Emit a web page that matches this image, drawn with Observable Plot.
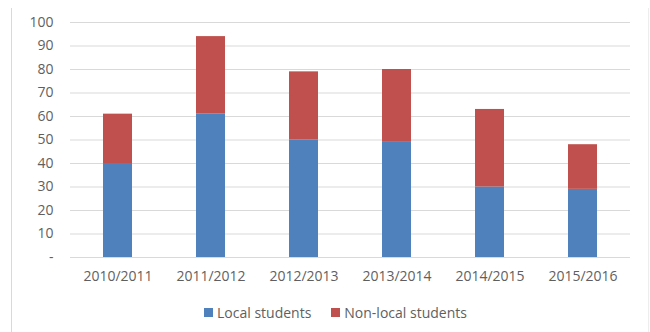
<!DOCTYPE html>
<html>
<head>
<meta charset="utf-8">
<script src="https://cdn.jsdelivr.net/npm/d3@7"></script>
<script src="https://cdn.jsdelivr.net/npm/@observablehq/plot@0.6"></script>
<style>
  html, body { margin: 0; padding: 0; background: #fff; }
  #wrap { position: relative; width: 650px; height: 332px; overflow: hidden; font-family: "Open Sans", "Liberation Sans", sans-serif; }
  #border { position: absolute; left: 11px; top: 8px; width: 636px; height: 330px; border-left: 1px solid #d9d9d9; border-right: 1px solid #ededed; }
  #chart { position: absolute; left: 0; top: 0; }
  #legend { position: absolute; left: 204px; top: 303px; display: flex; gap: 20px; font-size: 14px; color: #5f5f5f; }
  #legend span.item { display: flex; align-items: center; }
  #legend i { display: inline-block; width: 9px; height: 9px; margin-right: 4px; }
</style>
</head>
<body>
<div id="wrap">
  <div id="border"></div>
  <div id="chart"></div>
  <div id="legend"></div>
</div>
<script>
const years = ["2010/2011", "2011/2012", "2012/2013", "2013/2014", "2014/2015", "2015/2016"];
const localStudents = [40, 61, 50, 49, 30, 29];
const nonLocalStudents = [21, 33, 29, 31, 33, 19];
const seriesNames = ["Local students", "Non-local students"];
const seriesColors = ["#4f81bd", "#c0504d"];
const yTicks = [0, 10, 20, 30, 40, 50, 60, 70, 80, 90, 100];

const data = [];
years.forEach((y, i) => {
  data.push({year: y, type: seriesNames[0], value: localStudents[i]});
  data.push({year: y, type: seriesNames[1], value: nonLocalStudents[i]});
});

const fmt = d => d === 0 ? "-" : d;

const chart = Plot.plot({
  width: 650,
  height: 290,
  marginTop: 22,
  marginBottom: 33,
  marginLeft: 70,
  marginRight: 20,
  style: {fontFamily: '"Open Sans", "Liberation Sans", sans-serif', fontSize: "14px", color: "#5f5f5f", background: "transparent"},
  x: {domain: years, paddingInner: 0.69, paddingOuter: 0.345, label: null},
  y: {domain: [0, 100], label: null},
  color: {domain: seriesNames, range: seriesColors},
  marks: [
    Plot.gridY(yTicks, {stroke: "#d9d9d9", strokeOpacity: 1, strokeWidth: 1.2}),
    Plot.barY(data, {x: "year", y: "value", fill: "type"}),
    Plot.axisX({tickSize: 0, tickPadding: 14, label: null, fill: "#5f5f5f"}),
    Plot.axisY({ticks: yTicks, tickSize: 0, tickPadding: 17, label: null, fill: "#5f5f5f", tickFormat: fmt})
  ]
});
document.getElementById("chart").appendChild(chart);

const legend = document.getElementById("legend");
seriesNames.forEach((name, i) => {
  const item = document.createElement("span");
  item.className = "item";
  const sw = document.createElement("i");
  sw.style.background = seriesColors[i];
  item.appendChild(sw);
  item.appendChild(document.createTextNode(name));
  legend.appendChild(item);
});
</script>
</body>
</html>
